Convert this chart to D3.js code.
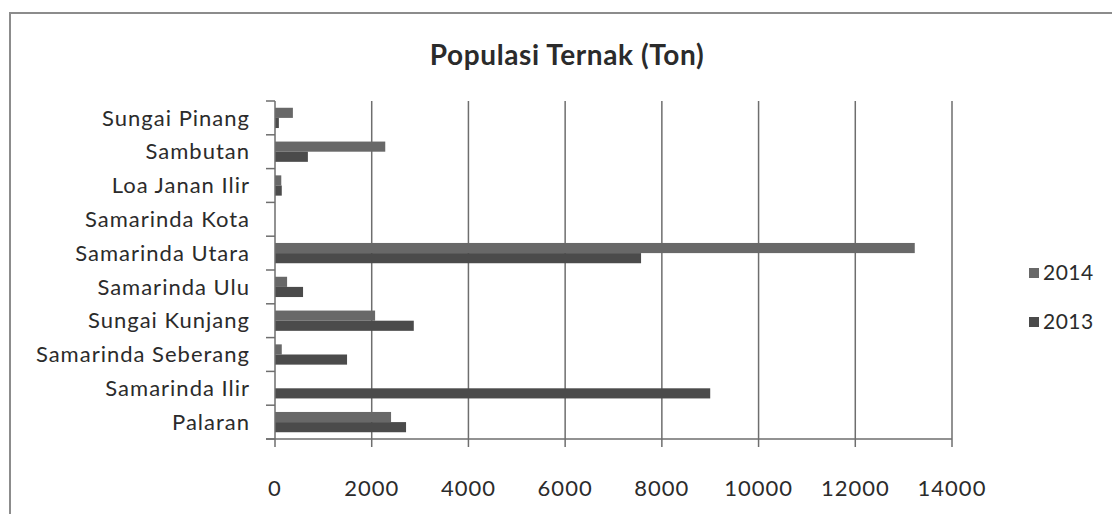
<!DOCTYPE html>
<html>
<head>
<meta charset="utf-8">
<script src="https://cdn.jsdelivr.net/npm/d3@7"></script>
<style>
  body { margin: 0; background: #fff; }
  text { font-family: Lato, "Open Sans", sans-serif; fill: #2b2b2b; }
</style>
</head>
<body>
<div class="sandbox"></div>
<script>
// data, top to bottom as in the chart
var categories = ["Sungai Pinang", "Sambutan", "Loa Janan Ilir", "Samarinda Kota",
  "Samarinda Utara", "Samarinda Ulu", "Sungai Kunjang", "Samarinda Seberang",
  "Samarinda Ilir", "Palaran"];
var series = ["2014", "2013"];
var values2014 = [370, 2280, 130, 0, 13230, 250, 2070, 140, 0, 2400];
var values2013 = [80, 680, 140, 0, 7570, 580, 2870, 1490, 9000, 2710];
var xTicks = [0, 2000, 4000, 6000, 8000, 10000, 12000, 14000];

var w = 1112, h = 514;
var svg = d3.select(".sandbox").append("svg")
  .attr("width", w).attr("height", h);

// chart frame
svg.append("rect")
  .attr("x", 10).attr("y", 13)
  .attr("width", w).attr("height", h)
  .attr("fill", "none").attr("stroke", "#8c8c8c").attr("stroke-width", 2);

svg.append("text")
  .attr("x", 567).attr("y", 65)
  .attr("text-anchor", "middle")
  .attr("font-size", 28).attr("font-weight", "bold")
  .attr("letter-spacing", 0.6)
  .text("Populasi Ternak (Ton)");

var pLeft = 275, pRight = 952, pTop = 101, pBottom = 439;
var x = d3.scaleLinear().domain([0, 14000]).range([pLeft, pRight]);
var y = d3.scaleBand().domain(categories).range([pTop, pBottom])
  .paddingInner(0.4).paddingOuter(0.2);
var inner = d3.scaleBand().domain(series).range([0, y.bandwidth()]);
var colors = d3.scaleOrdinal().domain(series).range(["#686868", "#4b4b4b"]);

// grid lines
svg.append("g").selectAll("line")
  .data(xTicks.slice(1))
  .enter().append("line")
  .attr("x1", d => x(d)).attr("x2", d => x(d))
  .attr("y1", pTop).attr("y2", pBottom)
  .attr("stroke", "#6e6e6e").attr("stroke-width", 1.5);

// bars
var data = categories.map((c, i) => ({ name: c, v: { "2014": values2014[i], "2013": values2013[i] } }));
var groups = svg.append("g").selectAll("g")
  .data(data)
  .enter().append("g")
  .attr("transform", d => "translate(0," + y(d.name) + ")");
groups.selectAll("rect")
  .data(d => series.map(s => ({ s: s, v: d.v[s] })))
  .enter().append("rect")
  .attr("x", x(0))
  .attr("y", d => inner(d.s))
  .attr("width", d => x(d.v) - x(0))
  .attr("height", inner.bandwidth())
  .attr("fill", d => colors(d.s));

// y axis
var step = (pBottom - pTop) / categories.length;
var yAxis = svg.append("g");
yAxis.append("line")
  .attr("x1", pLeft).attr("x2", pLeft).attr("y1", pTop).attr("y2", pBottom)
  .attr("stroke", "#6e6e6e").attr("stroke-width", 1.5);
yAxis.selectAll(".tk")
  .data(d3.range(categories.length + 1))
  .enter().append("line")
  .attr("x1", pLeft - 9).attr("x2", pLeft)
  .attr("y1", i => pTop + i * step).attr("y2", i => pTop + i * step)
  .attr("stroke", "#6e6e6e").attr("stroke-width", 1.5);
yAxis.selectAll("text")
  .data(categories)
  .enter().append("text")
  .attr("x", 250)
  .attr("y", d => y(d) + y.bandwidth() / 2)
  .attr("dy", "0.35em")
  .attr("text-anchor", "end")
  .attr("font-size", 22)
  .attr("letter-spacing", 1)
  .text(d => d);

// x axis
var xAxis = svg.append("g");
xAxis.append("line")
  .attr("x1", pLeft - 9).attr("x2", pRight).attr("y1", pBottom).attr("y2", pBottom)
  .attr("stroke", "#6e6e6e").attr("stroke-width", 1.5);
xAxis.selectAll("line.tk")
  .data(xTicks)
  .enter().append("line")
  .attr("x1", d => x(d)).attr("x2", d => x(d))
  .attr("y1", pBottom).attr("y2", pBottom + 8)
  .attr("stroke", "#6e6e6e").attr("stroke-width", 1.5);
xAxis.selectAll("text")
  .data(xTicks)
  .enter().append("text")
  .attr("x", d => x(d))
  .attr("y", 496)
  .attr("text-anchor", "middle")
  .attr("font-size", 22)
  .attr("letter-spacing", 1)
  .text(d => d);

// legend
var legend = svg.append("g").selectAll("g")
  .data(series)
  .enter().append("g")
  .attr("transform", (d, i) => "translate(1029," + (273 + i * 49) + ")");
legend.append("rect")
  .attr("x", 0).attr("y", -5).attr("width", 10).attr("height", 10)
  .attr("fill", d => colors(d));
legend.append("text")
  .attr("x", 14).attr("y", 0).attr("dy", "0.35em")
  .attr("font-size", 21)
  .attr("letter-spacing", 0.5)
  .text(d => d);
</script>
</body>
</html>
